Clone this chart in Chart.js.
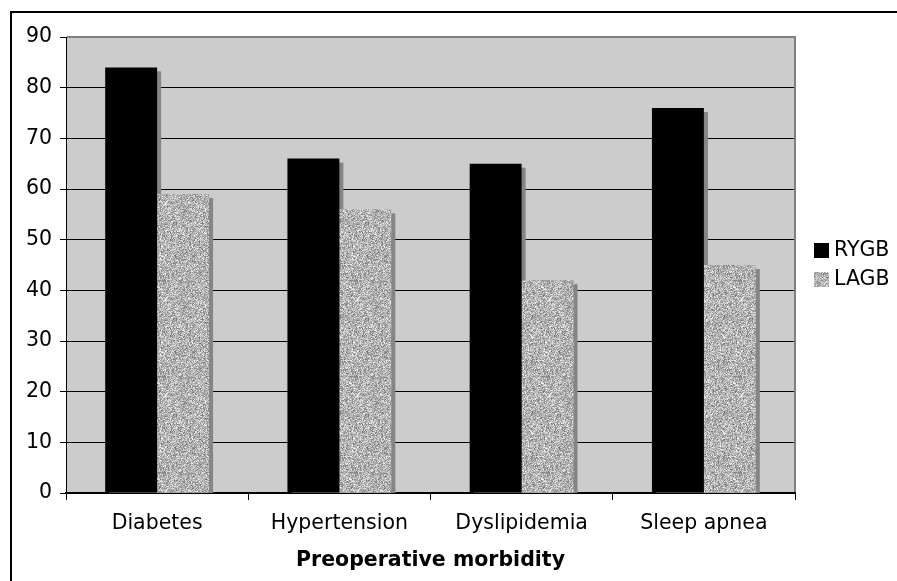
<!DOCTYPE html>
<html>
<head>
<meta charset="utf-8">
<script src="https://cdn.jsdelivr.net/npm/chart.js@4/dist/chart.umd.min.js"></script>
<style>
  html, body { margin: 0; padding: 0; background: #fff; }
  #wrap { width: 897px; height: 581px; position: relative; }
</style>
</head>
<body>
<div id="wrap"><canvas id="c"></canvas></div>
<script>
const categories = ['Diabetes', 'Hypertension', 'Dyslipidemia', 'Sleep apnea'];
const seriesNames = ['RYGB', 'LAGB'];
const rygbValues = [84, 66, 65, 76];
const lagbValues = [59, 56, 42, 45];
const yTicks = [0, 10, 20, 30, 40, 50, 60, 70, 80, 90];
const xTitle = 'Preoperative morbidity';

const FONT = "'DejaVu Sans', Verdana, sans-serif";
const FSIZE = 20.5;

// speckled grey texture (deterministic)
function makePattern() {
  const pc = document.createElement('canvas');
  pc.width = 96; pc.height = 96;
  const g = pc.getContext('2d');
  const img = g.createImageData(96, 96);
  let s = 12345;
  const rnd = () => { s = (s * 1103515245 + 12345) & 0x7fffffff; return s / 0x7fffffff; };
  for (let i = 0; i < 96 * 96; i++) {
    const v = Math.round(105 + (rnd() + rnd()) * 0.5 * 150);
    img.data[i * 4] = v; img.data[i * 4 + 1] = v; img.data[i * 4 + 2] = v; img.data[i * 4 + 3] = 255;
  }
  g.putImageData(img, 0, 0);
  return g.createPattern(pc, 'repeat');
}
const speckle = makePattern();

const bgPlugin = {
  id: 'bgPlugin',
  beforeDraw(chart) {
    const { ctx, chartArea: a } = chart;
    ctx.save();
    ctx.fillStyle = '#ffffff';
    ctx.fillRect(0, 0, chart.width, chart.height);
    ctx.fillStyle = '#cccccc';
    ctx.fillRect(a.left, a.top, a.right - a.left, a.bottom - a.top);
    ctx.restore();
  },
  beforeDatasetsDraw(chart) {
    const { ctx, chartArea: a } = chart;
    ctx.save();
    ctx.beginPath();
    ctx.rect(a.left, a.top, a.right - a.left, a.bottom - a.top);
    ctx.clip();
    ctx.fillStyle = '#858585';
    chart.data.datasets.forEach((ds, i) => {
      const meta = chart.getDatasetMeta(i);
      meta.data.forEach(bar => {
        const w = bar.width;
        ctx.fillRect(bar.x - w / 2 + 4, bar.y + 4, w, bar.base - bar.y);
      });
    });
    ctx.restore();
  },
  afterDraw(chart) {
    const { ctx, chartArea: a } = chart;
    ctx.save();
    // plot border right/top grey
    ctx.strokeStyle = '#808080';
    ctx.lineWidth = 2;
    ctx.beginPath();
    ctx.moveTo(a.left + 1, a.top);
    ctx.lineTo(a.right, a.top);
    ctx.lineTo(a.right, a.bottom - 1);
    ctx.stroke();
    // outer frame (top & left)
    ctx.fillStyle = '#000';
    ctx.fillRect(10, 11, chart.width - 10, 2);
    ctx.fillRect(10, 11, 2, chart.height - 11);
    // legend
    ctx.font = FSIZE + 'px ' + FONT;
    ctx.textBaseline = 'middle';
    ctx.textAlign = 'left';
    const fills = ['#000000', speckle];
    seriesNames.forEach((n, i) => {
      const y = 243 + i * 29;
      ctx.fillStyle = fills[i];
      ctx.fillRect(814, y, 15, 15);
      ctx.fillStyle = '#000';
      ctx.fillText(n, 834, y + 8);
    });
    ctx.restore();
  }
};

new Chart(document.getElementById('c'), {
  type: 'bar',
  data: {
    labels: categories,
    datasets: [
      { label: seriesNames[0], data: rygbValues, backgroundColor: '#000000', borderWidth: 0 },
      { label: seriesNames[1], data: lagbValues, backgroundColor: speckle, borderWidth: 0 }
    ]
  },
  options: {
    responsive: true,
    maintainAspectRatio: false,
    devicePixelRatio: 1,
    animation: false,
    layout: { padding: { top: 37, right: 102, left: 0, bottom: 0 } },
    datasets: { bar: { categoryPercentage: 0.57, barPercentage: 1.0 } },
    plugins: { legend: { display: false }, tooltip: { enabled: false } },
    scales: {
      x: {
        afterFit(scale) { scale.height = 88; },
        grid: { display: true, drawOnChartArea: false, drawTicks: true, tickLength: 7, color: '#000', offset: true },
        border: { display: true, color: '#000', width: 2 },
        ticks: { color: '#000', font: { family: FONT, size: FSIZE }, padding: 11 },
        title: { display: true, text: xTitle, color: '#000', font: { family: FONT, size: FSIZE, weight: 'bold' }, padding: { top: 0, bottom: 8 } }
      },
      y: {
        min: 0, max: 90,
        afterFit(scale) { scale.width = 66; },
        afterBuildTicks(scale) { scale.ticks = yTicks.map(v => ({ value: v })); },
        grid: { color: '#000', lineWidth: 1, tickLength: 6, drawTicks: true },
        border: { display: true, color: '#000', width: 1 },
        ticks: { color: '#000', font: { family: FONT, size: FSIZE }, padding: 8, stepSize: 10 }
      }
    }
  },
  plugins: [bgPlugin]
});
</script>
</body>
</html>
